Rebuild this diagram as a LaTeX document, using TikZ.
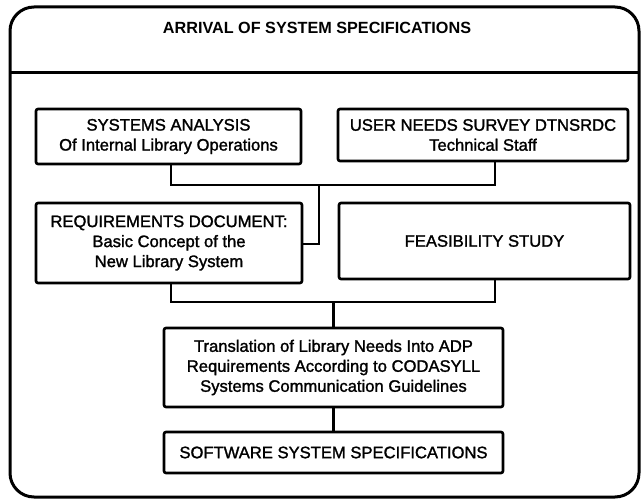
\documentclass[tikz,border=0pt]{standalone}
\usepackage{fontspec}
\setmainfont{Liberation Sans}
\newfontfamily\boxfont[FakeBold=1.5]{Liberation Sans}
\begin{document}
\begin{tikzpicture}[x=1pt,y=-1pt,
  box/.style={draw=black, line width=2.6pt, rounded corners=2pt, align=center, inner sep=0pt,
    font=\boxfont\fontsize{16.6}{20}\selectfont},
  conn/.style={draw=black, line width=2.6pt},
  frame/.style={draw=black, line width=3pt}]
\useasboundingbox (0,0) rectangle (643,500);
% outer frame
\draw[frame, rounded corners=24pt] (10,7) rectangle (639,497);
\draw[frame] (10,73) -- (639,73);
\node[font=\bfseries\fontsize{16.2}{18}\selectfont] (title) at (317,28) {ARRIVAL OF SYSTEM SPECIFICATIONS};
% boxes
\node[box, minimum width=265pt, minimum height=55pt] (sa) at (168.5,136.5) {SYSTEMS ANALYSIS\\Of Internal Library Operations};
\node[box, minimum width=290pt, minimum height=52pt] (un) at (483,135) {USER NEEDS SURVEY DTNSRDC\\Technical Staff};
\node[box, minimum width=266pt, minimum height=80pt] (req) at (169,243) {REQUIREMENTS DOCUMENT:\\Basic Concept of the\\New Library System};
\node[box, minimum width=291pt, minimum height=76pt] (fs) at (484.5,241) {FEASIBILITY STUDY};
\node[box, minimum width=339pt, minimum height=79pt] (tr) at (333.5,367.5) {Translation of Library Needs Into ADP\\Requirements According to CODASYLL\\Systems Communication Guidelines};
\node[box, minimum width=339pt, minimum height=41pt] (sw) at (333.5,452.5) {SOFTWARE SYSTEM SPECIFICATIONS};
% junction coordinates
\coordinate (j1l) at (171,185);
\coordinate (j1r) at (495,185);
\coordinate (j1m) at (319,185);
\coordinate (j1d) at (319,244);
\coordinate (j2l) at (171,302);
\coordinate (j2r) at (495,302);
\coordinate (j2m) at (333.5,302);
% connectors
\draw[conn] (sa.south -| j1l) -- (j1l) -- (j1r) -- (un.south -| j1r);
\draw[conn] (j1m) -- (j1d) -- (req.east |- j1d);
\draw[conn] (req.south -| j2l) -- (j2l) -- (j2r) -- (fs.south -| j2r);
\draw[conn] (j2m) -- (tr.north);
\draw[conn] (tr.south) -- (sw.north);
\end{tikzpicture}
\end{document}
